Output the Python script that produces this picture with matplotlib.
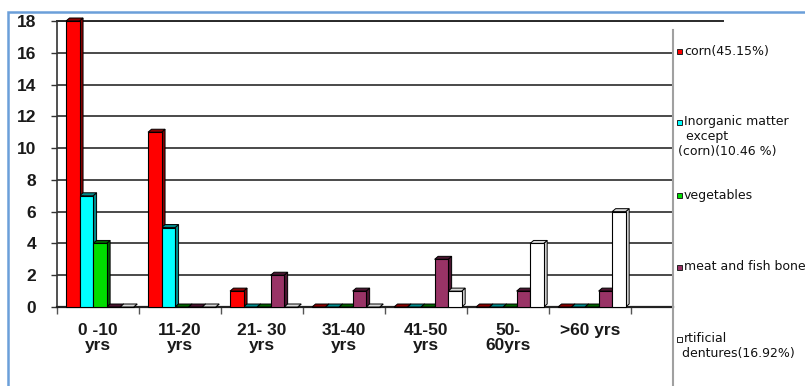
import matplotlib
matplotlib.use("Agg")
import matplotlib.pyplot as plt
from matplotlib.patches import Polygon, Rectangle
from matplotlib.lines import Line2D

# ---- data -------------------------------------------------------------
age_groups = ["0 -10\nyrs", "11-20\nyrs", "21- 30\nyrs", "31-40\nyrs",
              "41-50\nyrs", "50-\n60yrs", ">60 yrs"]
corn = [18, 11, 1, 0, 0, 0, 0]
inorganic = [7, 5, 0, 0, 0, 0, 0]
vegetables = [4, 0, 0, 0, 0, 0, 0]
meat_fish_bone = [0, 0, 2, 1, 3, 1, 1]
dentures = [0, 0, 0, 0, 1, 4, 6]
y_ticks = [0, 2, 4, 6, 8, 10, 12, 14, 16, 18]

legend_lines = [
    ["corn(45.15%)"],
    ["Inorganic matter", "  except", "(corn)(10.46 %)"],
    ["vegetables"],
    ["meat and fish bone"],
    ["rtificial", " dentures(16.92%)"],
]

series = [corn, inorganic, vegetables, meat_fish_bone, dentures]
front_colors = ["#ff0000", "#00ffff", "#00dd00", "#993366", "#ffffff"]
side_colors = ["#8a0000", "#008b8b", "#006400", "#4a1530", "#d8d8d8"]

# ---- figure -----------------------------------------------------------
W, H = 805, 386
fig = plt.figure(figsize=(W / 100, H / 100), dpi=100)
fig.patch.set_facecolor("white")

x_left, x_right, y_top, y_base = 57, 673, 21, 307
ax = fig.add_axes([x_left / W, 1 - y_base / H,
                   (x_right - x_left) / W, (y_base - y_top) / H])

group_px = 82.0
ax.set_xlim(0, (x_right - x_left) / group_px)
ax.set_ylim(0, 18)

bar_w = 0.165
first_off = 0.11
dx = 3.5 / group_px                 # depth of the pseudo-3D faces
dy = 3.0 / ((y_base - y_top) / 18)

for j, (vals, fc, sc) in enumerate(zip(series, front_colors, side_colors)):
    lefts = [i + first_off + j * bar_w for i in range(len(vals))]
    ax.bar(lefts, vals, width=bar_w, align="edge", color=fc,
           edgecolor="black", linewidth=0.8, zorder=4, clip_on=False)
    for x0, h in zip(lefts, vals):
        x1 = x0 + bar_w
        side = Polygon([(x1, 0), (x1 + dx, dy), (x1 + dx, h + dy), (x1, h)],
                       closed=True, facecolor=sc, edgecolor="black",
                       linewidth=0.7, zorder=3, clip_on=False)
        top = Polygon([(x0, h), (x0 + dx, h + dy), (x1 + dx, h + dy), (x1, h)],
                      closed=True, facecolor=sc, edgecolor="black",
                      linewidth=0.7, zorder=3, clip_on=False)
        ax.add_patch(side)
        ax.add_patch(top)

# ---- axes styling -----------------------------------------------------
ax.set_yticks(y_ticks)
ax.set_yticklabels([str(v) for v in y_ticks])
ax.yaxis.grid(True, color="#3c3c3c", linewidth=1.3, zorder=1)
ax.set_axisbelow(True)

ax.set_xticks(range(0, len(age_groups) + 1))
ax.set_xticklabels([])
ax.tick_params(axis="x", direction="out", length=5, width=1.0, color="#555555")
ax.tick_params(axis="y", direction="out", length=4, width=1.0, color="#333333",
               pad=11, labelsize=12.5, labelcolor="#1a1a1a")
for lab in ax.get_yticklabels():
    lab.set_fontfamily("Liberation Sans")
    lab.set_fontweight("bold")

for i, name in enumerate(age_groups):
    ax.text(i + 0.5, -1.0, name, ha="center", va="top", fontsize=12.5,
            fontweight="bold", family="Liberation Sans", color="#1a1a1a",
            linespacing=1.05)

for s in ("top", "right"):
    ax.spines[s].set_visible(False)
ax.spines["left"].set_color("#333333")
ax.spines["left"].set_linewidth(1.2)
ax.spines["bottom"].set_color("#222222")
ax.spines["bottom"].set_linewidth(1.6)

# top back-wall edge running past the plot area
ax.plot([0, (723 - x_left) / (x_right - x_left)], [1, 1], transform=ax.transAxes,
        color="#2a2a2a", linewidth=1.4, clip_on=False, zorder=2)

# legend panel separator
fig.add_artist(Line2D([x_right / W, x_right / W], [0, 1 - 30 / H],
                      transform=fig.transFigure, color="#a0a0a0", linewidth=1.5))

# ---- legend -----------------------------------------------------------
entry_y = [51, 122, 195, 267, 339]
line_step = 14.5
for k, (lines, fc) in enumerate(zip(legend_lines, front_colors)):
    yc = entry_y[k]
    fig.add_artist(Rectangle((677 / W, 1 - (yc + 3) / H), 5 / W, 5 / H,
                             transform=fig.transFigure, facecolor=fc,
                             edgecolor="#222222", linewidth=0.7))
    for n, txt in enumerate(lines):
        x_txt = 684 if n == 0 else 678
        fig.text(x_txt / W, 1 - (yc + n * line_step) / H, txt, ha="left",
                 va="center", fontsize=9, family="DejaVu Sans", color="#111111")

# ---- outer frame ------------------------------------------------------
fig.add_artist(Rectangle((8 / W, -0.05), 1.2, 1.05 - 11.5 / H,
                         transform=fig.transFigure, fill=False,
                         edgecolor="#6b9fd9", linewidth=1.8))

fig.savefig("out.png", dpi=100)
